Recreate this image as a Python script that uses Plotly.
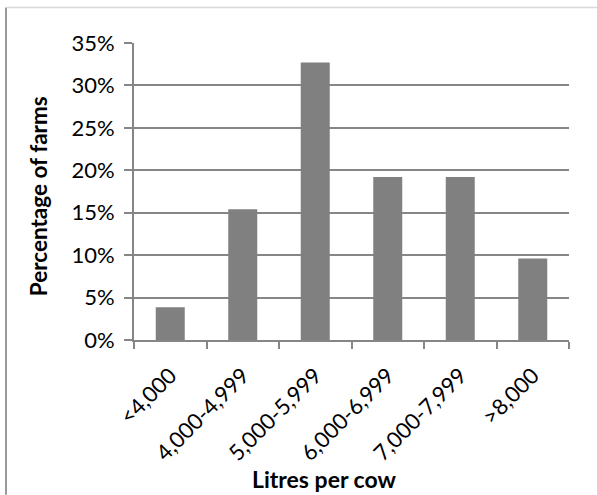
import plotly.graph_objects as go

categories = ["<4,000", "4,000-4,999", "5,000-5,999", "6,000-6,999", "7,000-7,999", ">8,000"]
percent_farms = [0.0385, 0.154, 0.327, 0.192, 0.192, 0.096]
y_ticks = [0, 0.05, 0.10, 0.15, 0.20, 0.25, 0.30, 0.35]

W, H = 597, 495
L, R, T, B = 134, 28, 42.5, 155
pw, ph = W - L - R, H - T - B

def px(x):
    return (x - L) / pw

def py(y):
    return (H - B - y) / ph

grid = "#868686"
font = "Lato, 'Open Sans', sans-serif"

fig = go.Figure(go.Bar(x=categories, y=percent_farms, marker=dict(color="#808080", line=dict(width=0))))

fig.update_layout(
    width=W, height=H,
    margin=dict(l=L, r=R, t=T, b=B),
    paper_bgcolor="white", plot_bgcolor="white",
    bargap=0.6, showlegend=False,
    font=dict(family=font, color="#000000", size=21),
)
fig.update_yaxes(
    range=[0, 0.35], tickvals=y_ticks, tickformat=".0%",
    showgrid=True, gridcolor=grid, gridwidth=2,
    showline=True, linecolor=grid, linewidth=2,
    ticks="outside", ticklen=8, tickcolor=grid, tickwidth=2,
    zeroline=False, tickfont=dict(size=22, family=font), ticklabelstandoff=5,
)
fig.update_xaxes(
    showgrid=False, showline=True, linecolor=grid, linewidth=2,
    ticks="outside", ticklen=7, tickcolor=grid, tickwidth=2, tickson="boundaries",
    tickangle=-45, tickfont=dict(size=22, family=font), ticklabelstandoff=12,
)
fig.add_annotation(text="<b>Percentage of farms</b>", xref="paper", yref="paper",
                   x=px(38), y=py(196), textangle=-90, showarrow=False,
                   font=dict(size=22.5, family=font), xanchor="center", yanchor="middle")
fig.add_annotation(text="<b>Litres per cow</b>", xref="paper", yref="paper",
                   x=px(324), y=py(479), showarrow=False,
                   font=dict(size=23, family=font), xanchor="center", yanchor="middle")
# chart border (left and top)
fig.add_shape(type="line", xref="paper", yref="paper", layer="above",
              x0=px(6), x1=px(6), y0=py(7), y1=py(495),
              line=dict(color="#9a9a9a", width=2))
fig.add_shape(type="line", xref="paper", yref="paper", layer="above",
              x0=px(6), x1=px(597), y0=py(7), y1=py(7),
              line=dict(color="#d9d9d9", width=1.5))

fig.write_html("out.html", config={"displayModeBar": False},
               post_script="document.body.style.margin='0';")
